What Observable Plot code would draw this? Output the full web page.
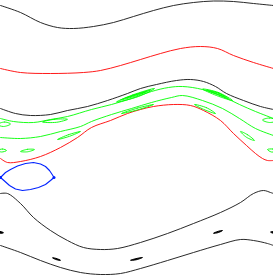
<!DOCTYPE html>
<html>
<head>
<meta charset="utf-8">
<script src="https://cdn.jsdelivr.net/npm/d3@7"></script>
<script src="https://cdn.jsdelivr.net/npm/@observablehq/plot@0.6"></script>
<style>
  html, body { margin: 0; padding: 0; background: #fff; }
  #chart svg { display: block; }
</style>
</head>
<body>
<div id="chart"></div>
<script>
// Orbits: [angle, momentum] in picture units (momentum grows downward)
const blackTop = [[0,5],[20,12],[40,22],[57,27],[73,28],[93,26],[113,22],[133,16],[153,10],[173,5],[193,2],[213,0.5],[233,1],[253,3],[273,5]];
const blackMid = [[0,108],[15,113],[30,115],[50,114],[67,110],[87,106],[107,100],[127,93],[140,88],[156,84],[176,80],[190,79],[203,81],[215,86],[226,93],[243,100],[260,106],[273,109]];
const blackLow1 = [[0,193],[7,193],[20,203],[33,217],[50,230],[67,240],[83,247],[100,249],[117,248],[140,242],[167,233],[193,223],[220,212],[240,202],[253,193],[263,190],[270,192],[273,193]];
const blackLow2 = [[0,245],[20,252],[40,260],[60,267],[80,272],[100,274],[120,273],[140,268],[167,260],[193,252],[220,244],[240,239],[253,240],[267,243],[273,245]];
const redTop = [[0,68],[20,72],[50,73],[83,72],[100,70],[120,65],[140,59],[160,53],[180,48],[200,46],[217,48],[233,55],[253,62],[273,68]];
const redLow = [[0,158],[7,162],[20,161],[40,156],[60,147],[77,137],[91,127],[110,120],[127,113],[140,109],[153,106],[173,104],[190,105],[203,110],[220,120],[233,133],[246,145],[255,153],[262,158],[267,160],[273,160]];
const greenUpper = [[0,118],[13,121],[33,122],[50,119],[67,116],[91,109],[111,104],[131,98],[151,91],[168,87],[182,86],[202,89],[222,96],[239,104],[255,111],[273,118]];
const greenLower = [[0,137],[20,138],[40,136],[60,131],[80,126],[91,121],[111,114],[131,108],[151,102],[171,97],[182,95],[202,100],[222,108],[239,118],[255,128],[273,135]];

// Islands (closed orbits)
const greenIslands = [
  {id: "u1", pts: [[-3,124],[4,121.5],[10,123.5],[3,126]]},
  {id: "u2", pts: [[42,121.5],[54,118.8],[67,118.8],[56,121.8]]},
  {id: "u3a", pts: [[116,101.5],[132,94.5],[154,88],[138,96]]},
  {id: "u3b", pts: [[120,99.5],[134,94.3],[150,89.5],[136,95.3]]},
  {id: "u3c", pts: [[125,97.5],[136,94],[146,91],[135,94.8]]},
  {id: "u4a", pts: [[202,88.5],[218,92],[232,100],[216,95]]},
  {id: "u4b", pts: [[206,89.5],[218,92.6],[228,98],[217,94]]},
  {id: "u4c", pts: [[210,91],[219,93],[224,96],[218,93.8]]},
  {id: "u5", pts: [[262,119.5],[269,117.5],[277,120],[269,122]]},
  {id: "l1", pts: [[-3,150],[2,148.5],[6,150],[1,151.5]]},
  {id: "l2", pts: [[20,151],[27,148.8],[34,149],[27,151.3]]},
  {id: "l3", pts: [[57,139],[68,134.2],[80,131],[69,135.8]]},
  {id: "l4", pts: [[121,113],[137,107.6],[153,104],[137,109.4]]},
  {id: "l5", pts: [[194,104],[206,107.2],[215,113],[203,108.8]]},
  {id: "l6", pts: [[240,131],[247,134.2],[254,140],[246,136.8]]},
  {id: "l7", pts: [[267,149],[272,148.5],[277,150.5],[271,151.5]]}
];
const blackIslands = [
  {id: "b1", pts: [[-4,231.5],[0,231],[3,232.3],[-1,232.8]]},
  {id: "b2", pts: [[52,257.3],[56,258],[60,259.8],[56,259.2]]},
  {id: "b3", pts: [[130,259.8],[136,258],[142,257],[136,259.2]]},
  {id: "b4", pts: [[213,232.8],[217,231],[222,230],[218,232]]},
  {id: "b5", pts: [[270,231.5],[273,231],[277,232.3],[273,232.8]]}
];
const blueLoop = [[0,177],[5,172],[10,169],[17,165.5],[25,163],[33,162],[40,163.5],[45,166],[49,170],[52,174.5],[53.5,177],[50,180],[45,184],[38,187],[30,189],[22,190],[15,188.5],[9,185],[4,180.5]];

const W = 273, H = 275;
const toRows = (pts, id) => pts.map(([x, y]) => ({x, y, id}));
const openCurve = (pts, color) => Plot.line(toRows(pts, "c"), {x: "x", y: "y", stroke: color, strokeWidth: 0.9, curve: "catmull-rom"});
const islandRows = (list) => list.flatMap(d => toRows(d.pts, d.id));

const chart = Plot.plot({
  width: W,
  height: H,
  margin: 0,
  clip: true,
  x: {domain: [0, 273], axis: null},
  y: {domain: [275, 0], axis: null},
  marks: [
    openCurve(blackTop, "#111"),
    openCurve(blackMid, "#111"),
    openCurve(blackLow1, "#111"),
    openCurve(blackLow2, "#111"),
    openCurve(redTop, "#ff0000"),
    openCurve(redLow, "#ff0000"),
    openCurve(greenUpper, "#00ff00"),
    openCurve(greenLower, "#00ff00"),
    Plot.line(islandRows(greenIslands), {x: "x", y: "y", z: "id", stroke: "#00ff00", strokeWidth: 0.9, curve: "catmull-rom-closed"}),
    Plot.line(islandRows(blackIslands), {x: "x", y: "y", z: "id", stroke: "#000", fill: "#000", strokeWidth: 1, curve: "catmull-rom-closed"}),
    Plot.line(toRows(blueLoop, "blue"), {x: "x", y: "y", stroke: "#0022ff", strokeWidth: 1.1, curve: "linear-closed"}),
    Plot.dot(toRows([[0,177],[53.5,177]], "v"), {x: "x", y: "y", r: 1.5, fill: "#0022ff"})
  ]
});
document.getElementById("chart").appendChild(chart);
</script>
</body>
</html>
